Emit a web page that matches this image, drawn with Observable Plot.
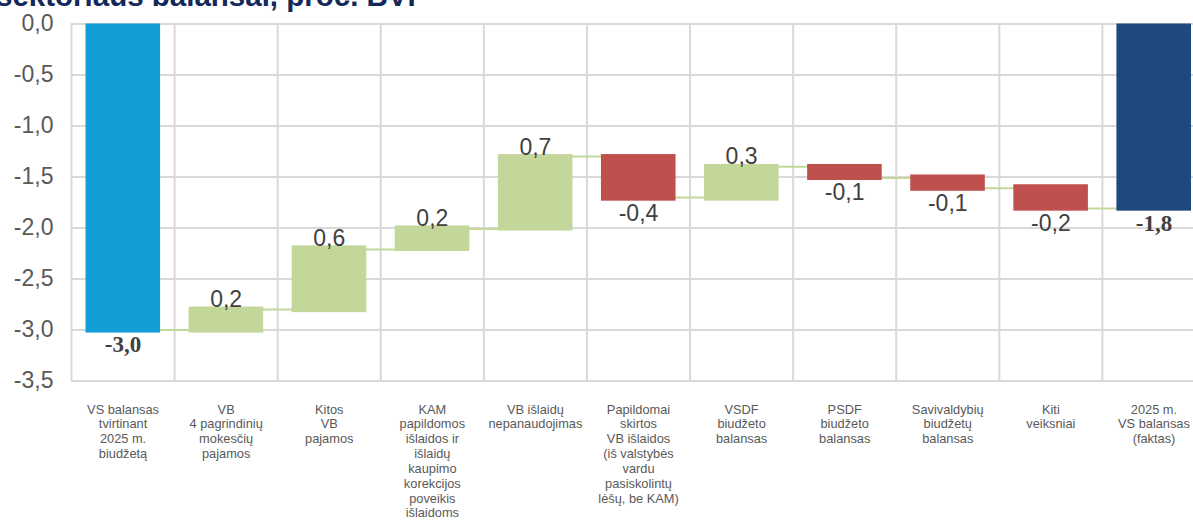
<!DOCTYPE html>
<html>
<head>
<meta charset="utf-8">
<script src="https://cdn.jsdelivr.net/npm/d3@7"></script>
<script src="https://cdn.jsdelivr.net/npm/@observablehq/plot@0.6"></script>
<style>
  html, body { margin: 0; padding: 0; background: #fff; overflow: hidden; }
  #wrap { position: relative; width: 1193px; height: 520px; overflow: hidden; }
  #title { position: absolute; left: -4px; top: -19px; font: bold 29.5px/29.5px "Liberation Sans", Arial, sans-serif; color: #14285a; white-space: nowrap; }
  #chart { position: absolute; left: 0; top: 0; width: 1210px; }
  #chart svg { max-width: none !important; width: 1210px; height: 520px; }
</style>
</head>
<body>
<div id="wrap">
  <div id="chart"></div>
  <div id="title">sektoriaus balansai, proc. BVP</div>
</div>
<script>
// ---- data ----
const categories = [
  "VS balansas\ntvirtinant\n2025 m.\nbiudžetą",
  "VB\n4 pagrindinių\nmokesčių\npajamos",
  "Kitos\nVB\npajamos",
  "KAM\npapildomos\nišlaidos ir\nišlaidų\nkaupimo\nkorekcijos\npoveikis\nišlaidoms",
  "VB išlaidų\nnepanaudojimas",
  "Papildomai\nskirtos\nVB išlaidos\n(iš valstybės\nvardu\npasiskolintų\nlėšų, be KAM)",
  "VSDF\nbiudžeto\nbalansas",
  "PSDF\nbiudžeto\nbalansas",
  "Savivaldybių\nbiudžetų\nbalansas",
  "Kiti\nveiksniai",
  "2025 m.\nVS balansas\n(faktas)"
];
const barStart = [0, -3.03, -2.83, -2.23, -2.03, -1.28, -1.737, -1.377, -1.48, -1.576, 0];
const barEnd   = [-3.03, -2.775, -2.175, -1.98, -1.28, -1.737, -1.377, -1.534, -1.64, -1.835, -1.835];
const barKind  = ["start", "up", "up", "up", "up", "down", "up", "down", "down", "down", "end"];
const valueLabels = ["-3,0", "0,2", "0,6", "0,2", "0,7", "-0,4", "0,3", "-0,1", "-0,1", "-0,2", "-1,8"];
const connectorLevel = [-3.0, -2.80, -2.21, -2.01, -1.30, -1.70, -1.40, -1.51, -1.61, -1.81];
const yTicks = [-3.5, -3.0, -2.5, -2.0, -1.5, -1.0, -0.5, 0.0];

const kindColor = { start: "#119fd6", up: "#c4d79b", down: "#c0504d", end: "#1f497d" };

const bars = categories.map((c, i) => ({
  i, label: c, low: Math.min(barStart[i], barEnd[i]), high: Math.max(barStart[i], barEnd[i]),
  kind: barKind[i], color: kindColor[barKind[i]], text: valueLabels[i]
}));
const conns = connectorLevel.map((v, i) => ({ i, level: v }));
const fmt = d => d.toFixed(1).replace(".", ",");

const plot = Plot.plot({
  width: 1210,
  height: 520,
  marginLeft: 71,
  marginRight: 5,
  marginTop: 23.5,
  marginBottom: 139.5,
  style: { fontFamily: "'Liberation Sans', Arial, sans-serif", background: "transparent", maxWidth: "none" },
  x: { domain: [0, categories.length], axis: null },
  y: { domain: [-3.5, 0], axis: null },
  color: { type: "identity" },
  marks: [
    Plot.ruleY(yTicks, { stroke: "#d9d9d9", strokeWidth: 2 }),
    Plot.ruleX(d3.range(0, categories.length + 1), { y1: -3.5, y2: 0, stroke: "#d9d9d9", strokeWidth: 2 }),
    Plot.axisY(yTicks, { tickSize: 0, tickPadding: 18, tickFormat: fmt, fontSize: 23, color: "#595959", textAnchor: "end" }),
    Plot.ruleY(conns, { x1: d => d.i + 0.5, x2: d => d.i + 1.5, y: "level", stroke: "#c4d79b", strokeWidth: 2 }),
    Plot.rect(bars, { x1: d => d.i, x2: d => d.i + 1, y1: "low", y2: "high", fill: "color", insetLeft: 14.5, insetRight: 14 }),
    Plot.text(bars.filter(d => d.kind === "up"), {
      x: d => d.i + 0.5, y: "high", text: "text", lineAnchor: "bottom", dy: 0,
      fontSize: 23, fill: "#404040"
    }),
    Plot.text(bars.filter(d => d.kind === "down"), {
      x: d => d.i + 0.5, y: "low", text: "text", lineAnchor: "top", dy: 3,
      fontSize: 23, fill: "#404040"
    }),
    Plot.text(bars.filter(d => d.kind === "start" || d.kind === "end"), {
      x: d => d.i + 0.5, y: "low", text: "text", lineAnchor: "top", dy: 3,
      fontSize: 23, fontWeight: "bold", fontFamily: "'Liberation Serif', 'Times New Roman', serif", fill: "#404040"
    }),
    Plot.text(bars, {
      x: d => d.i + 0.5, y: () => -3.5, text: "label", lineAnchor: "top", dy: 22,
      fontSize: 12.8, lineHeight: 1.16, fill: "#595959"
    })
  ]
});
document.getElementById("chart").appendChild(plot);
</script>
</body>
</html>
